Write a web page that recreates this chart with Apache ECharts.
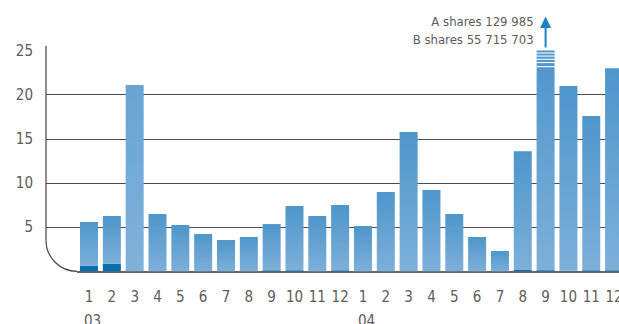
<!DOCTYPE html>
<html>
<head>
<meta charset="utf-8">
<script src="https://cdn.jsdelivr.net/npm/echarts@6/dist/echarts.min.js"></script>
<style>
  html, body { margin: 0; padding: 0; background: #fff; }
  #chart { width: 619px; height: 324px; }
</style>
</head>
<body>
<div id="chart"></div>
<script>
// Monthly share turnover, millions of shares (2003–2004)
const months = ['1','2','3','4','5','6','7','8','9','10','11','12',
                '1','2','3','4','5','6','7','8','9','10','11','12'];
const yearMarks = ['03','','','','','','','','','','','',
                   '04','','','','','','','','','','',''];
const aShares = [0.62, 0.85, 0, 0, 0, 0, 0, 0, 0.12, 0.12, 0, 0.12,
                 0, 0, 0, 0, 0, 0, 0, 0.15, 0.129985, 0.05, 0.12, 0.12];
const bShares = [4.96, 5.41, 21.09, 6.49, 5.24, 4.22, 3.54, 3.88, 5.23, 7.27, 6.26, 7.38,
                 5.13, 8.98, 15.77, 9.2, 6.49, 3.88, 2.3, 13.45, 55.715703, 20.92, 17.46, 22.88];
const yTicks = [5, 10, 15, 20, 25];

const FONT = "'Liberation Sans Narrow', 'DejaVu Sans Condensed', Roboto, sans-serif";
const TEXT = '#5c5c5c';
const AXIS_MAX = yTicks[yTicks.length - 1];
const STEP = yTicks[1] - yTicks[0];

// Grid 0 carries the y labels and gridlines, grid 1 carries the bars
const frameLeft = 46, barsLeft = 77.6, gridTop = 50.5, gridBottom = 52.7, gridRight = -6.5;

const fmtShares = v => String(Math.round(v * 1e6)).replace(/\B(?=(\d{3})+(?!\d))/g, ' ');

const barGradient = (top, bottom) => new echarts.graphic.LinearGradient(0, 0, 0, 1, [
  { offset: 0, color: top }, { offset: 1, color: bottom }
]);
const normalFill = barGradient('#4e96cb', '#7dafd9');
const paleFill = barGradient('#68a4d4', '#80b1da');
// March 2003 is printed in a paler tint
const paleBar = 2;
const bData = bShares.map((v, i) => i === paleBar ? { value: v, itemStyle: { color: paleFill } } : v);

const chart = echarts.init(document.getElementById('chart'), null, { renderer: 'svg' });

const option = {
  animation: false,
  grid: [
    { left: frameLeft, right: gridRight, top: gridTop, bottom: gridBottom,
      containLabel: false, outerBoundsMode: 'none' },
    { left: barsLeft, right: gridRight, top: gridTop, bottom: gridBottom,
      containLabel: false, outerBoundsMode: 'none' }
  ],
  xAxis: [
    { gridIndex: 0, type: 'value', min: 0, max: 1, show: false },
    {
      gridIndex: 1, type: 'category', data: months,
      axisLine: { lineStyle: { color: '#333', width: 1.5 } },
      axisTick: { show: false },
      axisLabel: {
        interval: 0, margin: 16,
        formatter: (val, i) => yearMarks[i] ? `{m|${val}}\n{y|${yearMarks[i]}}` : `{m|${val}}`,
        rich: {
          m: { fontFamily: FONT, fontSize: 15, color: TEXT, lineHeight: 20 },
          y: { fontFamily: FONT, fontSize: 15, color: TEXT, lineHeight: 27, padding: [0, 0, 0, 7] }
        }
      }
    }
  ],
  yAxis: [
    {
      gridIndex: 0, type: 'value', min: 0, max: AXIS_MAX, interval: STEP,
      axisLine: { show: false }, axisTick: { show: false },
      axisLabel: {
        margin: 13, padding: [11, 0, 0, 0],
        fontFamily: FONT, fontSize: 15, color: TEXT,
        formatter: v => (yTicks.indexOf(v) >= 0 ? String(v) : '')
      },
      splitLine: { show: true, showMinLine: false, showMaxLine: false,
                   lineStyle: { color: '#4a4a4a', width: 1 } }
    },
    { gridIndex: 1, type: 'value', min: 0, max: AXIS_MAX, interval: STEP, show: false }
  ],
  series: [
    {
      name: 'A shares', type: 'bar', stack: 'shares', xAxisIndex: 1, yAxisIndex: 1,
      data: aShares, barWidth: 18, itemStyle: { color: '#0b6fae' }
    },
    {
      name: 'B shares', type: 'bar', stack: 'shares', xAxisIndex: 1, yAxisIndex: 1,
      data: bData, barWidth: 18, clip: true,
      itemStyle: { color: normalFill }
    }
  ]
};
chart.setOption(option);

// Frame: vertical axis with a rounded corner into the baseline
const baseY = chart.convertToPixel({ yAxisIndex: 1 }, 0);
const radius = barsLeft - frameLeft - 0.6;
const graphics = [
  { type: 'line', silent: true, z: 50,
    shape: { x1: frameLeft, y1: gridTop - 4.8, x2: frameLeft, y2: baseY - radius },
    style: { stroke: '#444', lineWidth: 1.2 } },
  { type: 'arc', silent: true, z: 50,
    shape: { cx: frameLeft + radius, cy: baseY - radius, r: radius,
             startAngle: Math.PI / 2, endAngle: Math.PI, clockwise: true },
    style: { stroke: '#444', lineWidth: 1.2, fill: null } }
];

// The off-scale month: break marks on top of the bar, arrow and value note
const bigIdx = bShares.indexOf(Math.max.apply(null, bShares));
const bigX = chart.convertToPixel({ xAxisIndex: 1 }, bigIdx);
const bw = 18;
[2, 5, 8.2, 11.5, 15.6].forEach(dy => {
  graphics.push({ type: 'rect', silent: true, z: 100,
    shape: { x: bigX - bw / 2 - 0.5, y: gridTop + dy, width: bw + 1, height: 1.1 },
    style: { fill: '#fff' } });
});
graphics.push(
  { type: 'line', silent: true, z: 100,
    shape: { x1: bigX, y1: gridTop - 3, x2: bigX, y2: 26 },
    style: { stroke: '#1a80c0', lineWidth: 2 } },
  { type: 'polygon', silent: true, z: 100,
    shape: { points: [[bigX, 16.5], [bigX - 5.5, 28], [bigX + 5.5, 28]] },
    style: { fill: '#1a80c0' } },
  { type: 'text', silent: true, z: 100, x: bigX - 12, y: 21,
    style: { text: 'A shares ' + fmtShares(aShares[bigIdx]), align: 'right', verticalAlign: 'middle',
             font: '13px ' + FONT, fill: TEXT } },
  { type: 'text', silent: true, z: 100, x: bigX - 12, y: 39.5,
    style: { text: 'B shares ' + fmtShares(bShares[bigIdx]), align: 'right', verticalAlign: 'middle',
             font: '13px ' + FONT, fill: TEXT } }
);
chart.setOption({ graphic: graphics });
</script>
</body>
</html>
